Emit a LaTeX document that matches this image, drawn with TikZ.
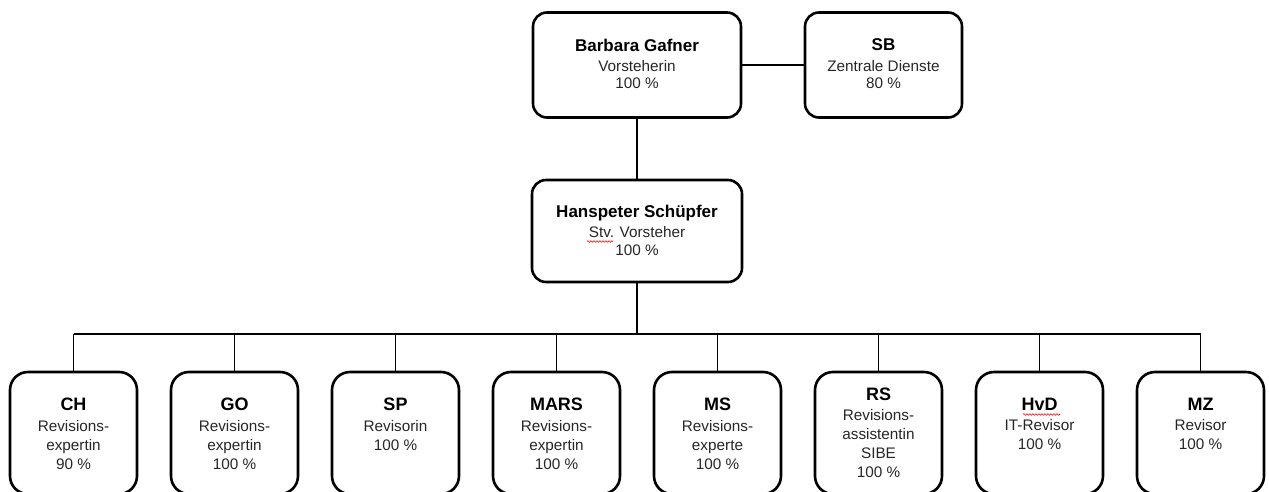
\documentclass[tikz,border=0pt]{standalone}
\usepackage{fontspec}
\setmainfont{Liberation Sans}
\usetikzlibrary{decorations.pathmorphing}
\definecolor{txt}{HTML}{262626}
\newcommand\nmtop{\color{black}\bfseries\fontsize{17}{17}\selectfont}
\newcommand\nmlow{\color{black}\bfseries\fontsize{18}{18}\selectfont}
\begin{document}
\begin{tikzpicture}[x=1pt,y=-1pt,
  box/.style={draw=black, line width=2.6pt, rectangle, inner sep=0pt},
  upbox/.style={box, rounded corners=14pt, minimum height=105pt},
  lowbox/.style={box, rounded corners=18pt, minimum width=127pt, minimum height=122pt},
  uptxt/.style={anchor=north, inner sep=0pt, align=center, text=txt, font=\fontsize{15.3}{17}\selectfont},
  midtxt/.style={anchor=north, inner sep=0pt, align=center, text=txt, font=\fontsize{15.3}{18}\selectfont},
  lowtxt/.style={anchor=north, inner sep=0pt, align=center, text=txt, font=\fontsize{15.3}{19}\selectfont},
  conn/.style={line width=1.8pt, draw=black},
  spell/.style={draw=red, line width=0.6pt, decorate, decoration={snake, amplitude=0.8pt, segment length=3pt}}
]
\useasboundingbox (0,0) rectangle (1269,492);
\clip (0,0) rectangle (1269,492);

% top level
\node[upbox, minimum width=208pt] (bg) at (637,65) {};
\node[uptxt] (bgt) at ([yshift=-27.5pt]bg.north) {{\nmtop Barbara Gafner}\\[3.5pt]Vorsteherin\\100 \%};
\node[upbox, minimum width=157pt] (sb) at (883.5,65) {};
\node[uptxt] (sbt) at ([yshift=-27.5pt]sb.north) {{\nmtop SB}\\[3.5pt]Zentrale Dienste\\80 \%};

% deputy
\node[upbox, minimum width=210pt, minimum height=102pt] (hs) at (637,231) {};
\node[midtxt] (hst) at ([yshift=-26.5pt]hs.north) {{\nmtop Hanspeter Schüpfer}\\[1.5pt]Stv. Vorsteher\\100 \%};

% staff
\node[lowbox] (ch) at (73.5,433) {};
\node[lowtxt] (cht) at ([yshift=-27.5pt]ch.north) {{\nmlow CH}\\[2pt]Revisions-\\expertin\\90 \%};
\node[lowbox] (go) at (234.5,433) {};
\node[lowtxt] (got) at ([yshift=-27.5pt]go.north) {{\nmlow GO}\\[2pt]Revisions-\\expertin\\100 \%};
\node[lowbox] (sp) at (395.5,433) {};
\node[lowtxt] (spt) at ([yshift=-27.5pt]sp.north) {{\nmlow SP}\\[2pt]Revisorin\\100 \%};
\node[lowbox] (mars) at (556.5,433) {};
\node[lowtxt] (marst) at ([yshift=-27.5pt]mars.north) {{\nmlow MARS}\\[2pt]Revisions-\\expertin\\100 \%};
\node[lowbox] (ms) at (717.5,433) {};
\node[lowtxt] (mst) at ([yshift=-27.5pt]ms.north) {{\nmlow MS}\\[2pt]Revisions-\\experte\\100 \%};
\node[lowbox] (rs) at (878.5,433) {};
\node[lowtxt] (rst) at ([yshift=-17.5pt]rs.north) {{\nmlow RS}\\[1pt]Revisions-\\assistentin\\SIBE\\100 \%};
\node[lowbox] (hvd) at (1039.5,433) {};
\node[lowtxt] (hvdt) at ([yshift=-27.5pt]hvd.north) {{\nmlow HvD}\\[1pt]IT-Revisor\\100 \%};
\node[lowbox] (mz) at (1200.5,433) {};
\node[lowtxt] (mzt) at ([yshift=-27.5pt]mz.north) {{\nmlow MZ}\\[1pt]Revisor\\100 \%};

% connectors
\coordinate (bus) at (0,334);
\draw[conn] (bg.east) -- (sb.west);
\draw[conn] (bg.south) -- (hs.north);
\draw[conn] (hs.south) -- (hs.south |- bus);
\draw[conn] (ch.north |- bus) -- (mz.north |- bus);
\foreach \b in {ch,go,sp,mars,ms,rs,hvd,mz}
  \draw[conn] (\b.north) -- (\b.north |- bus);

% spell-check marks
\draw[spell] (587,241.5) -- (613,241.5);
\draw[spell] (1023,414.5) -- (1060,414.5);
\end{tikzpicture}
\end{document}
